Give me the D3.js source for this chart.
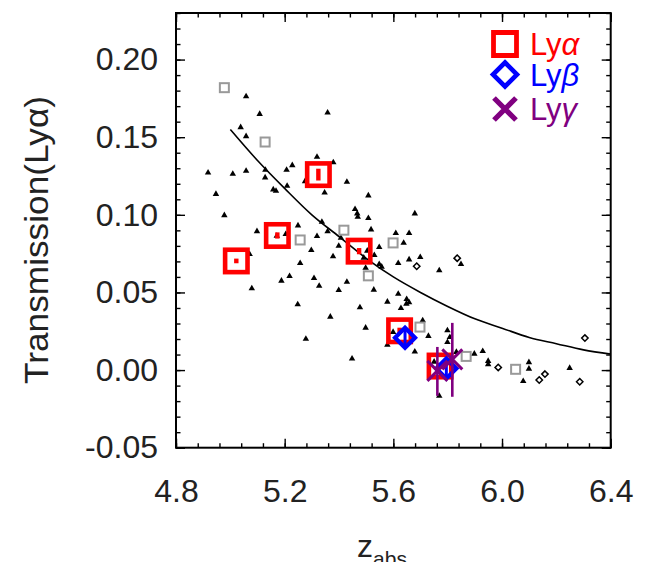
<!DOCTYPE html>
<html>
<head>
<meta charset="utf-8">
<script src="https://cdn.jsdelivr.net/npm/d3@7"></script>
<style>
  body { margin: 0; background: #fff; }
  svg text { font-family: "Liberation Sans", Arial, Helvetica, sans-serif; }
</style>
</head>
<body>
<div id="chart"></div>
<script>
// Ly-alpha measurements (big red squares): z, T, err
var lyaZ = [5.022, 5.173, 5.324, 5.474, 5.623, 5.772];
var lyaT = [0.0703, 0.0867, 0.1259, 0.0766, 0.0253, 0.0026];
var lyaErr = [0.0015, 0.002, 0.0038, 0.002, 0.002, 0.002];

// Ly-beta (blue diamonds)
var lybZ = [5.643, 5.795];
var lybT = [0.0208, 0.001];
var lybErr = [0.006, 0.006];

// Ly-gamma (purple crosses)
var lygZ = [5.762, 5.817];
var lygT = [-0.0005, 0.0069];
var lygErrUp = [0.0154, 0.0235];
var lygErrDn = [0.0161, 0.0241];

// comparison sample: small filled triangles
var triZ = [5.058, 5.108, 5.358, 5.038, 5.058, 5.319, 5.379, 5.228, 5.207, 5.129,
  4.918, 5.009, 5.058, 5.128, 5.209, 5.275, 5.347, 4.947, 5.158, 5.168,
  4.978, 5.098, 5.249, 5.337, 5.358, 5.319, 5.171, 5.204, 5.407, 5.071,
  5.298, 5.399, 5.378, 5.257, 5.218, 5.188, 5.308, 5.327, 5.079, 5.399,
  5.248, 5.368, 5.278, 5.429, 5.508, 5.459, 5.467, 5.469, 5.508, 5.679,
  5.518, 5.609, 5.658, 5.638, 5.548, 5.530, 5.504, 5.491, 5.498, 5.618,
  5.658, 5.699, 5.548, 5.557, 5.769, 5.849, 5.429, 5.528, 5.618, 5.578,
  5.649, 5.658, 5.648, 5.628, 5.477, 5.498, 5.708, 5.599, 5.578, 5.679,
  5.729, 5.799, 5.808, 5.799, 5.448, 5.750, 5.769, 5.898, 5.929, 5.949,
  5.949, 6.099, 6.099, 6.078, 6.249, 5.832];
var triT = [0.1763, 0.1649, 0.1658, 0.1564, 0.1506, 0.1373, 0.1338, 0.1319, 0.1289, 0.1289,
  0.1272, 0.1263, 0.1283, 0.1240, 0.1186, 0.1216, 0.1143, 0.1134, 0.1163, 0.1154,
  0.0997, 0.0894, 0.0931, 0.0954, 0.0893, 0.0862, 0.0864, 0.0875, 0.0851, 0.0746,
  0.0772, 0.0800, 0.0732, 0.0689, 0.0605, 0.0575, 0.0592, 0.0542, 0.0526, 0.0515,
  0.0423, 0.0343, 0.0201, 0.1212, 0.1124, 0.1036, 0.1008, 0.0986, 0.0978, 0.1008,
  0.0905, 0.0882, 0.0882, 0.0819, 0.0792, 0.0740, 0.0768, 0.0723, 0.0658, 0.0689,
  0.0712, 0.0727, 0.0682, 0.0665, 0.0642, 0.0682, 0.0568, 0.0517, 0.0491, 0.0440,
  0.0457, 0.0436, 0.0427, 0.0399, 0.0403, 0.0272, 0.0320, 0.0245, 0.0163, 0.0118,
  0.0219, 0.0255, 0.0212, 0.0180, 0.0073, 0.0053, -0.0167, 0.0105, 0.0122, 0.0058,
  0.0037, 0.0050, 0.0008, -0.0071, 0.0013, 0.0116];

// small open diamonds
var dmdZ = [5.686, 5.835, 5.986, 6.137, 6.158, 6.286, 6.305];
var dmdT = [0.0669, 0.0721, 0.0017, -0.0064, -0.0026, -0.0075, 0.0206];

// grey open squares
var sqZ = [4.978, 5.128, 5.257, 5.418, 5.508, 5.599, 5.698, 5.868, 6.050];
var sqT = [0.1819, 0.1469, 0.0838, 0.0901, 0.0607, 0.0819, 0.0277, 0.0088, 0.0005];

// model curve
var fitZ = [5.0, 5.1, 5.2, 5.3, 5.4, 5.5, 5.6, 5.7, 5.8, 5.9, 6.0, 6.1, 6.2, 6.3, 6.4];
var fitT = [0.155, 0.135, 0.117, 0.100, 0.086, 0.072, 0.060, 0.050, 0.041, 0.033, 0.027, 0.021, 0.017, 0.013, 0.0103];

var xTicks = [4.8, 5.2, 5.6, 6.0, 6.4];
var yTicks = [-0.05, 0.00, 0.05, 0.10, 0.15, 0.20];
var yTickLabels = ['-0.05', '0.00', '0.05', '0.10', '0.15', '0.20'];

var legendNames = ['Ly', 'Ly', 'Ly'];
var legendGreek = ['\u03b1', '\u03b2', '\u03b3'];

var W = 648, H = 562;
var plotLeft = 176, plotTop = 13, plotRight = 610.7, plotBottom = 447.7;
var red = '#ff0000', blue = '#0000ff', purple = '#800080';

var svg = d3.select('#chart').append('svg')
  .attr('width', W).attr('height', H);

var x = d3.scaleLinear().domain([4.8, 6.4]).range([plotLeft, plotRight]);
var y = d3.scaleLinear().domain([-0.05, 0.23]).range([plotBottom, plotTop]);

function zip(a, b) { return a.map(function(v, i) { return [v, b[i]]; }); }

// axes: major + minor ticks on all four sides, pointing inward
var xMinor = d3.range(4.8, 6.4001, 0.08);
var yMinor = d3.range(-0.05, 0.2301, 0.01);
var axes = svg.append('g').attr('class', 'axes');

function styleAxis(g) {
  g.select('.domain').remove();
  g.selectAll('line').attr('stroke', '#000').attr('stroke-width', 1.4);
}

axes.append('g').attr('transform', 'translate(0,' + plotBottom + ')')
  .call(d3.axisBottom(x).tickValues(xMinor).tickSize(-4.5).tickFormat(''))
  .call(styleAxis);
axes.append('g').attr('transform', 'translate(0,' + plotBottom + ')')
  .call(d3.axisBottom(x).tickValues(xTicks).tickSize(-9).tickPadding(32).tickFormat(d3.format('.1f')))
  .call(styleAxis)
  .selectAll('text').attr('font-size', 32).attr('fill', '#222');
axes.append('g').attr('transform', 'translate(0,' + plotTop + ')')
  .call(d3.axisTop(x).tickValues(xMinor).tickSize(-4.5).tickFormat(''))
  .call(styleAxis);
axes.append('g').attr('transform', 'translate(0,' + plotTop + ')')
  .call(d3.axisTop(x).tickValues(xTicks).tickSize(-9).tickFormat(''))
  .call(styleAxis);

axes.append('g').attr('transform', 'translate(' + plotLeft + ',0)')
  .call(d3.axisLeft(y).tickValues(yMinor).tickSize(-4.5).tickFormat(''))
  .call(styleAxis);
axes.append('g').attr('transform', 'translate(' + plotLeft + ',0)')
  .call(d3.axisLeft(y).tickValues(yTicks).tickSize(-9).tickPadding(18)
    .tickFormat(function(d, i) { return yTickLabels[i]; }))
  .call(styleAxis)
  .selectAll('text').attr('font-size', 32).attr('fill', '#222');
axes.append('g').attr('transform', 'translate(' + plotRight + ',0)')
  .call(d3.axisRight(y).tickValues(yMinor).tickSize(-4.5).tickFormat(''))
  .call(styleAxis);
axes.append('g').attr('transform', 'translate(' + plotRight + ',0)')
  .call(d3.axisRight(y).tickValues(yTicks).tickSize(-9).tickFormat(''))
  .call(styleAxis);

svg.append('rect')
  .attr('x', plotLeft).attr('y', plotTop)
  .attr('width', plotRight - plotLeft).attr('height', plotBottom - plotTop)
  .attr('fill', 'none').attr('stroke', '#000').attr('stroke-width', 2);

// axis titles
svg.append('text')
  .attr('transform', 'translate(48,240) rotate(-90)')
  .attr('text-anchor', 'middle').attr('font-size', 34).attr('fill', '#222')
  .attr('textLength', 288).attr('lengthAdjust', 'spacingAndGlyphs')
  .text('Transmission(Ly\u03b1)');

var xt = svg.append('text')
  .attr('x', 382).attr('y', 557).attr('text-anchor', 'middle')
  .attr('font-size', 32).attr('fill', '#222');
xt.append('tspan').text('z');
xt.append('tspan').attr('font-size', 21).attr('dy', 9).text('abs');

var plot = svg.append('g');

// small comparison points
var tri = d3.symbol().type(d3.symbolTriangle).size(18);
plot.selectAll('.tri').data(zip(triZ, triT)).enter().append('path')
  .attr('d', tri)
  .attr('transform', function(d) { return 'translate(' + x(d[0]) + ',' + y(d[1]) + ')'; })
  .attr('fill', '#000');

plot.selectAll('.gsq').data(zip(sqZ, sqT)).enter().append('rect')
  .attr('x', function(d) { return x(d[0]) - 4.5; })
  .attr('y', function(d) { return y(d[1]) - 4.5; })
  .attr('width', 9).attr('height', 9)
  .attr('fill', 'none').attr('stroke', '#999').attr('stroke-width', 2);

plot.selectAll('.odm').data(zip(dmdZ, dmdT)).enter().append('path')
  .attr('d', 'M0,-3.2L3.2,0L0,3.2L-3.2,0Z')
  .attr('transform', function(d) { return 'translate(' + x(d[0]) + ',' + y(d[1]) + ')'; })
  .attr('fill', 'none').attr('stroke', '#000').attr('stroke-width', 1.5);

// model curve
plot.append('path')
  .datum(zip(fitZ, fitT))
  .attr('d', d3.line().x(function(d) { return x(d[0]); }).y(function(d) { return y(d[1]); })
    .curve(d3.curveMonotoneX))
  .attr('fill', 'none').attr('stroke', '#000').attr('stroke-width', 1.6);

// Ly-alpha squares with error bars
var lya = zip(lyaZ, lyaT);
plot.selectAll('.lya').data(lya).enter().append('rect')
  .attr('x', function(d) { return x(d[0]) - 11.2; })
  .attr('y', function(d) { return y(d[1]) - 11.2; })
  .attr('width', 22.4).attr('height', 22.4)
  .attr('fill', 'none').attr('stroke', red).attr('stroke-width', 4.6);
plot.selectAll('.lyaErr').data(lya).enter().append('rect')
  .attr('x', function(d) { return x(d[0]) - 2.2; })
  .attr('y', function(d, i) { return y(d[1] + lyaErr[i]); })
  .attr('width', 4.4)
  .attr('height', function(d, i) { return y(d[1] - lyaErr[i]) - y(d[1] + lyaErr[i]); })
  .attr('fill', red);

// Ly-beta diamonds
var lyb = zip(lybZ, lybT);
plot.selectAll('.lybErr').data(lyb).enter().append('line')
  .attr('x1', function(d) { return x(d[0]); }).attr('x2', function(d) { return x(d[0]); })
  .attr('y1', function(d, i) { return y(d[1] + lybErr[i]); })
  .attr('y2', function(d, i) { return y(d[1] - lybErr[i]); })
  .attr('stroke', blue).attr('stroke-width', 3);
plot.selectAll('.lyb').data(lyb).enter().append('path')
  .attr('d', 'M0,-10L10,0L0,10L-10,0Z')
  .attr('transform', function(d) { return 'translate(' + x(d[0]) + ',' + y(d[1]) + ')'; })
  .attr('fill', 'none').attr('stroke', blue).attr('stroke-width', 4.2);

// Ly-gamma crosses with error bars
var lyg = zip(lygZ, lygT);
plot.selectAll('.lygErr').data(lyg).enter().append('line')
  .attr('x1', function(d) { return x(d[0]); }).attr('x2', function(d) { return x(d[0]); })
  .attr('y1', function(d, i) { return y(d[1] + lygErrUp[i]); })
  .attr('y2', function(d, i) { return y(d[1] - lygErrDn[i]); })
  .attr('stroke', purple).attr('stroke-width', 2.6);
plot.selectAll('.lyg').data(lyg).enter().append('path')
  .attr('d', 'M-10,-10L10,10M-10,10L10,-10')
  .attr('transform', function(d) { return 'translate(' + x(d[0]) + ',' + y(d[1]) + ')'; })
  .attr('fill', 'none').attr('stroke', purple).attr('stroke-width', 3);

// legend
var legColors = [red, blue, purple];
var legend = svg.append('g');
var legY = [44, 74.5, 109];
var legSym = [
  'M-11.5,-11.5H11.5V11.5H-11.5Z',
  'M0,-12L12,0L0,12L-12,0Z',
  'M-11,-11L11,11M-11,11L11,-11'
];
var legWidth = [4.8, 4.6, 5.2];
legendNames.forEach(function(name, i) {
  legend.append('path')
    .attr('d', legSym[i])
    .attr('transform', 'translate(505,' + legY[i] + ')')
    .attr('fill', 'none').attr('stroke', legColors[i]).attr('stroke-width', legWidth[i]);
  var t = legend.append('text')
    .attr('x', 530).attr('y', legY[i] + 11)
    .attr('font-size', 31).attr('fill', legColors[i]);
  t.append('tspan').text(name);
  t.append('tspan').attr('font-style', 'italic').text(legendGreek[i]);
});
</script>
</body>
</html>
